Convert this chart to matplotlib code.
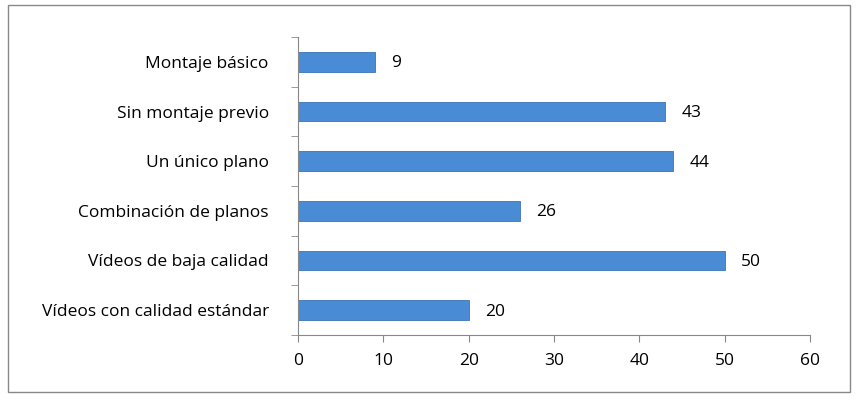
import matplotlib
matplotlib.use("Agg")
import matplotlib.pyplot as plt
from matplotlib.patches import Rectangle

categories = ["Vídeos con calidad estándar", "Vídeos de baja calidad", "Combinación de planos",
              "Un único plano", "Sin montaje previo", "Montaje básico"]
values = [20, 50, 26, 44, 43, 9]
xticks = [0, 10, 20, 30, 40, 50, 60]

plt.rcParams['font.family'] = ['Open Sans', 'DejaVu Sans']
fig = plt.figure(figsize=(8.6, 4.0), dpi=100)
fig.patches.append(Rectangle((8/860, 8/400), 842/860, 387/400, transform=fig.transFigure,
                             fill=False, edgecolor='#888888', linewidth=1))
ax = fig.add_axes([298/860, 1-335/400, 512/860, 298/400])
y = list(range(len(categories)))
ax.barh(y, values, height=0.4, color='#4A8BD5', edgecolor='#3A74B8', linewidth=0.6)
for yi, v in zip(y, values):
    ax.text(v + 1.9, yi - 0.03, str(v), va='center', ha='left', fontsize=12.5)
ax.set_xlim(0, 60)
ax.set_ylim(-0.5, 5.5)
ax.set_xticks(xticks)
ax.set_yticks(y)
ax.set_yticklabels(categories, fontsize=12.5)
ax.set_yticks([i + 0.5 for i in range(-1, 6)], minor=True)
ax.tick_params(axis='y', which='major', length=0, pad=21)
ax.tick_params(axis='y', which='minor', length=5, color='#888888')
ax.tick_params(axis='x', length=5, color='#888888', labelsize=12.5, pad=8)
for s in ['top', 'right']:
    ax.spines[s].set_visible(False)
for s in ['left', 'bottom']:
    ax.spines[s].set_color('#888888')
fig.savefig("out.png", dpi=100)
